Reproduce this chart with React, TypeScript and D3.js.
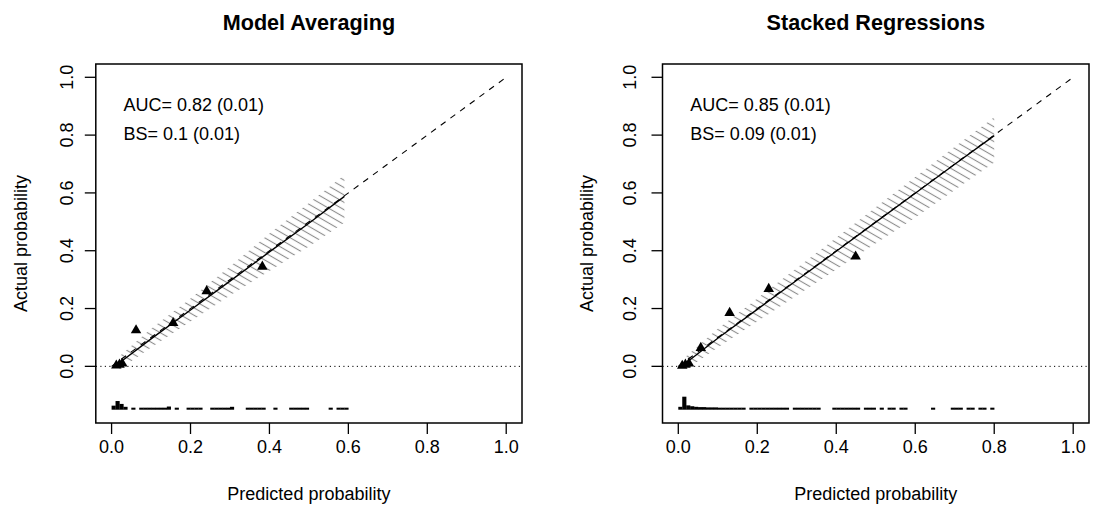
import React from "react";
import * as d3 from "d3";

// ---------- data ----------
const titles = ["Model Averaging", "Stacked Regressions"];
const aucLabels = ["AUC= 0.82 (0.01)", "AUC= 0.85 (0.01)"];
const bsLabels = ["BS= 0.1 (0.01)", "BS= 0.09 (0.01)"];
const tickValues = [0, 0.2, 0.4, 0.6, 0.8, 1.0];
const tickLabels = ["0.0", "0.2", "0.4", "0.6", "0.8", "1.0"];

// observed group points (predicted, actual)
const leftPointsX = [0.012, 0.02, 0.027, 0.062, 0.156, 0.241, 0.382];
const leftPointsY = [0.003, 0.006, 0.01, 0.125, 0.15, 0.26, 0.345];
const rightPointsX = [0.01, 0.018, 0.027, 0.057, 0.13, 0.229, 0.449];
const rightPointsY = [0.002, 0.006, 0.01, 0.064, 0.185, 0.268, 0.38];

// calibration curve and its confidence band
const leftCurveX = [0.01, 0.1, 0.2, 0.3, 0.4, 0.5, 0.59];
const leftCurveY = [0.002, 0.095, 0.195, 0.295, 0.396, 0.495, 0.588];
const leftBandX = [0.02, 0.1, 0.2, 0.3, 0.4, 0.5, 0.59];
const leftBandLo = [-0.01, 0.065, 0.155, 0.245, 0.33, 0.415, 0.498];
const leftBandHi = [0.035, 0.13, 0.235, 0.345, 0.46, 0.565, 0.662];

const rightCurveX = [0.01, 0.1, 0.2, 0.3, 0.4, 0.5, 0.6, 0.7, 0.8];
const rightCurveY = [0.002, 0.097, 0.197, 0.298, 0.398, 0.499, 0.599, 0.699, 0.798];
const rightBandX = [0.02, 0.1, 0.2, 0.3, 0.4, 0.5, 0.6, 0.7, 0.8];
const rightBandLo = [-0.01, 0.065, 0.155, 0.245, 0.335, 0.425, 0.515, 0.61, 0.705];
const rightBandHi = [0.035, 0.13, 0.235, 0.34, 0.445, 0.55, 0.655, 0.76, 0.862];

// spike histogram of predictions (bins of 0.01 from 0)
const spikeBase = -0.15;
const spikeBinWidth = 0.01;
const leftSpikes = [
  0.014, 0.03, 0.02, 0.01, 0, 0.007, 0, 0.007, 0.007, 0.007,
  0.007, 0.007, 0.007, 0.007, 0.011, 0, 0.007, 0, 0, 0.007,
  0.007, 0.007, 0.007, 0, 0, 0.007, 0.007, 0.007, 0.007, 0.007,
  0.01, 0, 0, 0, 0.007, 0.007, 0.007, 0.007, 0.007, 0,
  0, 0.007, 0, 0, 0, 0.007, 0.007, 0.007, 0.007, 0.007,
  0, 0, 0, 0, 0, 0.007, 0, 0.007, 0.007, 0.007,
];
const rightSpikes = [
  0.01, 0.045, 0.015, 0.012, 0.01, 0.009, 0.009, 0.008, 0.008, 0.008,
  0.007, 0.007, 0.007, 0.007, 0.007, 0.007, 0.007, 0, 0.007, 0.007,
  0.007, 0.007, 0.007, 0.007, 0.007, 0.007, 0.007, 0.007, 0, 0.007,
  0.007, 0.007, 0.007, 0.007, 0.007, 0.007, 0, 0, 0, 0.007,
  0.007, 0.007, 0.007, 0.007, 0.007, 0.007, 0, 0.007, 0.007, 0.007,
  0, 0.007, 0, 0.007, 0.007, 0, 0.007, 0.007, 0, 0,
  0, 0, 0, 0, 0.007, 0, 0, 0, 0, 0.007,
  0.007, 0.007, 0, 0.007, 0.007, 0, 0.007, 0.007, 0, 0.007,
];

const xDomain: [number, number] = [-0.04, 1.04];
const yDomain: [number, number] = [-0.196, 1.046];
const textX = 0.03;
const aucY = 0.9;
const bsY = 0.8;

const FONT = "'Liberation Sans', Arial, Helvetica, sans-serif";

type PanelProps = {
  idx: number;
  left: number;
  right: number;
  tickLabelX: number;
  yTitleX: number;
  pointsX: number[];
  pointsY: number[];
  curveX: number[];
  curveY: number[];
  bandX: number[];
  bandLo: number[];
  bandHi: number[];
  spikes: number[];
};

function Panel(p: PanelProps) {
  const top = 64;
  const bottom = 423;
  const x = d3.scaleLinear().domain(xDomain).range([p.left, p.right]);
  const y = d3.scaleLinear().domain(yDomain).range([bottom, top]);
  const cx = (p.left + p.right) / 2;

  const line = d3
    .line<[number, number]>()
    .x((d) => x(d[0]))
    .y((d) => y(d[1]));
  const curvePts: [number, number][] = p.curveX.map((v, i) => [v, p.curveY[i]]);

  const band = d3
    .area<number>()
    .x((_, i) => x(p.bandX[i]))
    .y0((_, i) => y(p.bandLo[i]))
    .y1((_, i) => y(p.bandHi[i]));

  const tri = d3.symbol().type(d3.symbolTriangle).size(48)();
  const patId = `hatch-${p.idx}`;
  const bw = x(spikeBinWidth) - x(0);

  return (
    <g>
      <defs>
        <pattern
          id={patId}
          patternUnits="userSpaceOnUse"
          width={20}
          height={6.4}
          patternTransform="rotate(30)"
        >
          <line x1={0} x2={20} y1={3.2} y2={3.2} stroke="#8c8c8c" strokeWidth={1.1} />
        </pattern>
      </defs>

      {/* hatched confidence band */}
      <path d={band(p.bandX) || ""} fill={`url(#${patId})`} stroke="none" />

      {/* ideal line */}
      <line
        x1={x(0)}
        y1={y(0)}
        x2={x(1)}
        y2={y(1)}
        stroke="#000"
        strokeWidth={1.1}
        strokeDasharray="6,6"
      />
      {/* zero reference */}
      <line
        x1={p.left}
        x2={p.right}
        y1={y(0)}
        y2={y(0)}
        stroke="#000"
        strokeWidth={1}
        strokeDasharray="1.2,3.3"
      />
      {/* calibration curve */}
      <path d={line(curvePts) || ""} fill="none" stroke="#000" strokeWidth={1.4} />

      {/* points */}
      {p.pointsX.map((v, i) => (
        <path key={i} d={tri || ""} transform={`translate(${x(v)},${y(p.pointsY[i])})`} fill="#000" />
      ))}

      {/* spike histogram */}
      {p.spikes.map((h, i) =>
        h > 0 ? (
          <rect
            key={i}
            x={x(i * spikeBinWidth)}
            width={bw + 0.2}
            y={y(spikeBase + h)}
            height={y(spikeBase) - y(spikeBase + h)}
            fill="#000"
          />
        ) : null
      )}

      {/* box */}
      <rect
        x={p.left}
        y={top}
        width={p.right - p.left}
        height={bottom - top}
        fill="none"
        stroke="#000"
        strokeWidth={1.5}
      />

      {/* x axis */}
      {tickValues.map((t, i) => (
        <g key={"xt" + i}>
          <line x1={x(t)} x2={x(t)} y1={bottom} y2={bottom + 11} stroke="#000" strokeWidth={1.3} />
          <text x={x(t)} y={453} textAnchor="middle" fontSize={18} fontFamily={FONT}>
            {tickLabels[i]}
          </text>
        </g>
      ))}
      {/* y axis */}
      {tickValues.map((t, i) => (
        <g key={"yt" + i}>
          <line x1={p.left - 11} x2={p.left} y1={y(t)} y2={y(t)} stroke="#000" strokeWidth={1.3} />
          <text
            transform={`translate(${p.tickLabelX},${y(t)}) rotate(-90)`}
            textAnchor="middle"
            fontSize={18}
            fontFamily={FONT}
          >
            {tickLabels[i]}
          </text>
        </g>
      ))}

      {/* annotations */}
      <text x={x(textX)} y={y(aucY) + 5} fontSize={18} fontFamily={FONT}>
        {aucLabels[p.idx]}
      </text>
      <text x={x(textX)} y={y(bsY) + 5} fontSize={18} fontFamily={FONT}>
        {bsLabels[p.idx]}
      </text>

      {/* titles */}
      <text x={cx} y={30} textAnchor="middle" fontSize={21.6} fontWeight="bold" fontFamily={FONT}>
        {titles[p.idx]}
      </text>
      <text x={cx} y={500} textAnchor="middle" fontSize={18} fontFamily={FONT}>
        Predicted probability
      </text>
      <text
        transform={`translate(${p.yTitleX},${(top + bottom) / 2}) rotate(-90)`}
        textAnchor="middle"
        fontSize={18}
        fontFamily={FONT}
      >
        Actual probability
      </text>
    </g>
  );
}

export default function App() {
  return (
    <svg
      width={1093}
      height={515}
      style={{ position: "fixed", left: 0, top: 0, background: "#fff" }}
    >
      <rect width={1093} height={515} fill="#fff" />
      <Panel
        idx={0}
        left={95.8}
        right={522}
        tickLabelX={73}
        yTitleX={26.5}
        pointsX={leftPointsX}
        pointsY={leftPointsY}
        curveX={leftCurveX}
        curveY={leftCurveY}
        bandX={leftBandX}
        bandLo={leftBandLo}
        bandHi={leftBandHi}
        spikes={leftSpikes}
      />
      <Panel
        idx={1}
        left={662.5}
        right={1089}
        tickLabelX={636}
        yTitleX={593}
        pointsX={rightPointsX}
        pointsY={rightPointsY}
        curveX={rightCurveX}
        curveY={rightCurveY}
        bandX={rightBandX}
        bandLo={rightBandLo}
        bandHi={rightBandHi}
        spikes={rightSpikes}
      />
    </svg>
  );
}
